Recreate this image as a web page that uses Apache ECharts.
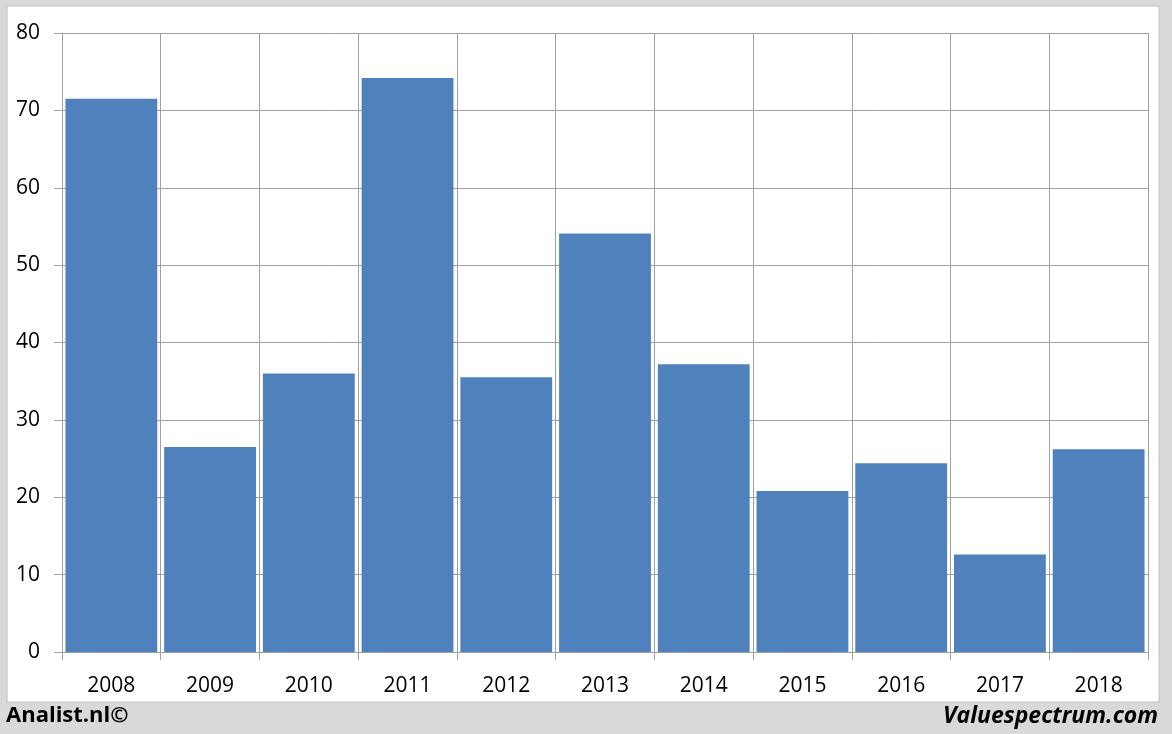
<!DOCTYPE html>
<html><head><meta charset="utf-8">
<script src="https://cdn.jsdelivr.net/npm/echarts@6/dist/echarts.min.js"></script>
<style>html,body{margin:0;padding:0;background:#d9d9d9}#c{width:1172px;height:734px}</style>
</head><body><div id="c"></div>
<script>
const categories = ['2008','2009','2010','2011','2012','2013','2014','2015','2016','2017','2018'];
const values = [71.5, 26.5, 36.0, 74.2, 35.5, 54.1, 37.2, 20.8, 24.4, 12.6, 26.2];
const yTicks = [0, 10, 20, 30, 40, 50, 60, 70, 80];
const footerLeft = 'Analist.nl©';
const footerRight = 'Valuespectrum.com';

const chart = echarts.init(document.getElementById('c'), null, {renderer:'canvas'});
const font = '"Open Sans", Lato, sans-serif';
chart.setOption({
  backgroundColor: '#d9d9d9',
  animation: false,
  graphic: [
    {type:'rect', z:-10, shape:{x:7, y:6, width:1152, height:696}, style:{fill:'#ffffff', stroke:'#c0c0c0', lineWidth:1}},
    {type:'text', left:6, top:705, style:{text:footerLeft, fontSize:22, fontWeight:'bold', fontFamily:font, fill:'#000'}},
    {type:'text', right:14, top:705, style:{text:footerRight, fontSize:23, fontWeight:'bold', fontStyle:'italic', fontFamily:font, fill:'#000'}}
  ],
  grid: {left:62, top:33, right:24, bottom:82, containLabel:false},
  xAxis: {
    type:'category', data: categories, boundaryGap:true,
    axisLine:{show:true, lineStyle:{color:'#a0a0a0', width:1}},
    axisTick:{show:true, length:8, inside:false, lineStyle:{color:'#a0a0a0'}},
    splitLine:{show:true, lineStyle:{color:'#a0a0a0', width:1}},
    axisLabel:{color:'#000', fontSize:21, fontFamily:font, margin:24}
  },
  yAxis: {
    type:'value', min:yTicks[0], max:yTicks[yTicks.length-1], interval:10,
    axisLine:{show:true, lineStyle:{color:'#a0a0a0'}},
    axisTick:{show:true, length:8, lineStyle:{color:'#a0a0a0'}},
    splitLine:{show:true, lineStyle:{color:'#a0a0a0', width:1}},
    axisLabel:{color:'#000', fontSize:21, fontFamily:font, margin:22}
  },
  series: [{
    type:'bar', data: values, barCategoryGap:'7%',
    itemStyle:{color:'#4f81bd'}
  }]
});
</script></body></html>
